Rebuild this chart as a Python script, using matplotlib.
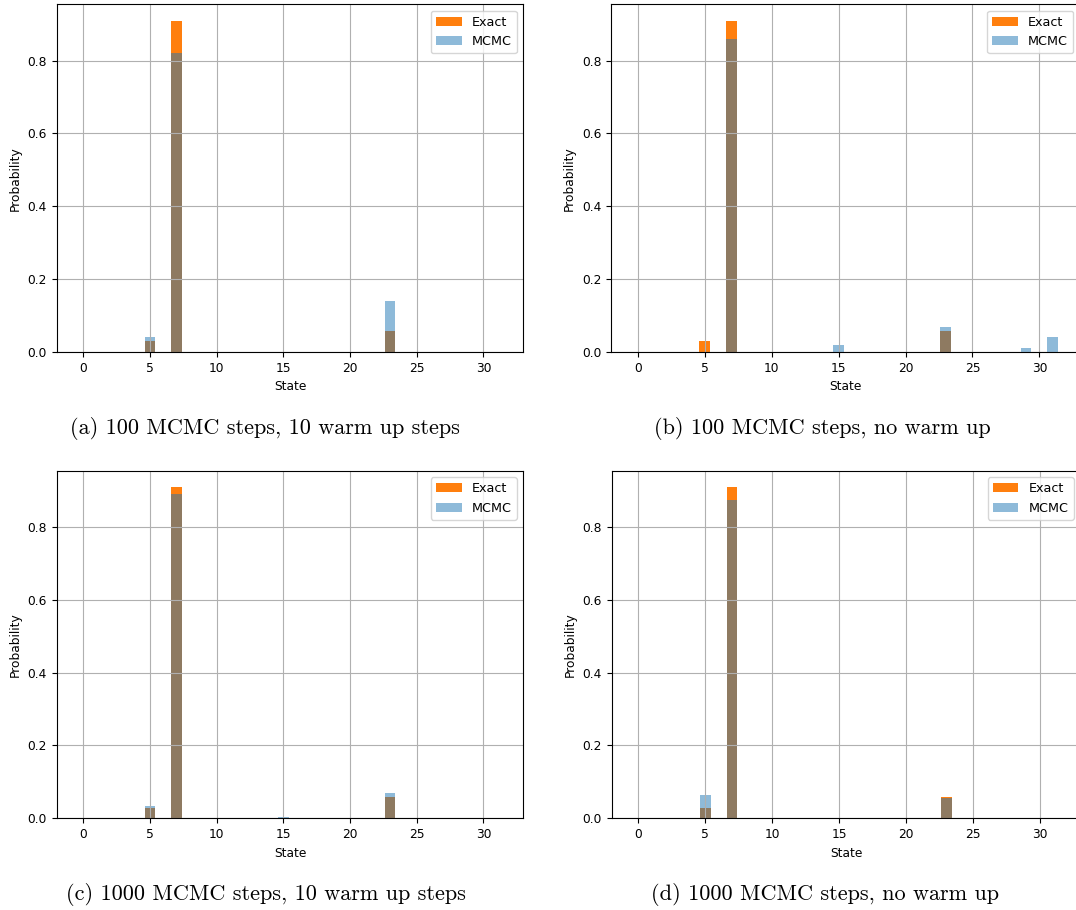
import numpy as np
import matplotlib
matplotlib.use('Agg')
import matplotlib.pyplot as plt

n_states = 32
states = np.arange(n_states)

# exact distribution (only non-zero states)
exact_states = [5, 7, 23]
exact_probs = [0.029, 0.909, 0.059]

# MCMC estimates for the four runs
mcmc_a_states = [5, 7, 23]
mcmc_a_probs = [0.04, 0.82, 0.14]
mcmc_b_states = [7, 15, 23, 29, 31]
mcmc_b_probs = [0.86, 0.02, 0.07, 0.01, 0.04]
mcmc_c_states = [5, 7, 15, 23]
mcmc_c_probs = [0.034, 0.891, 0.003, 0.069]
mcmc_d_states = [5, 7, 23]
mcmc_d_probs = [0.064, 0.875, 0.056]

captions = ['(a) 100 MCMC steps, 10 warm up steps',
            '(b) 100 MCMC steps, no warm up',
            '(c) 1000 MCMC steps, 10 warm up steps',
            '(d) 1000 MCMC steps, no warm up']


def full(idx, vals):
    p = np.zeros(n_states)
    p[idx] = vals
    return p


exact = full(exact_states, exact_probs)
runs = [full(mcmc_a_states, mcmc_a_probs), full(mcmc_b_states, mcmc_b_probs),
        full(mcmc_c_states, mcmc_c_probs), full(mcmc_d_states, mcmc_d_probs)]

plt.rcParams['font.size'] = 8.8

fig = plt.figure(figsize=(10.76, 9.10), dpi=100)
W, H = 1076, 910
# axes boxes in pixels: left, top, width, height
# (right-hand panels run slightly past the edge, like the cropped original)
boxes = [(56.7, 4.4, 466.6, 347.6), (611.0, 4.4, 468.5, 347.6),
         (56.7, 470.7, 466.6, 347.6), (611.7, 470.7, 468.5, 347.6)]
cap_pos = [(265, 428), (822, 428), (266, 895), (825, 895)]

for i in range(4):
    l, t, w, h = boxes[i]
    ax = fig.add_axes([l / W, 1 - (t + h) / H, w / W, h / H])
    ax.bar(states, exact, color='C1', label='Exact')
    ax.bar(states, runs[i], color='C0', alpha=0.5, label='MCMC')
    ax.grid(True)
    ax.set_xlabel('State')
    ax.set_ylabel('Probability')
    ax.legend(loc='upper right', fontsize=9.2)
    cx, cy = cap_pos[i]
    fig.text(cx / W, 1 - cy / H, captions[i], ha='center', va='center',
             fontfamily='cmr10', fontsize=16)

plt.savefig('out.png', dpi=100)
